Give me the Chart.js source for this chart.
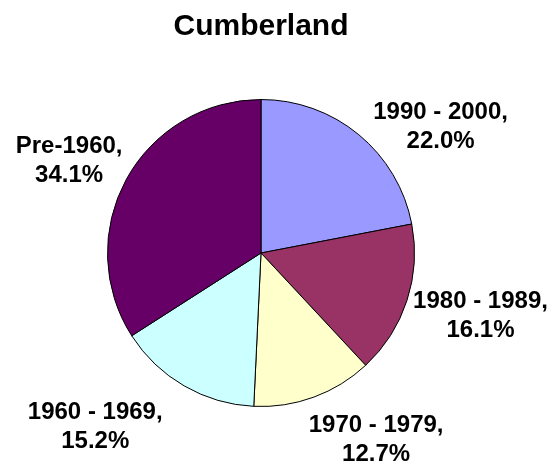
<!DOCTYPE html>
<html>
<head>
<meta charset="utf-8">
<script src="https://cdn.jsdelivr.net/npm/chart.js@4"></script>
<style>
  html, body { margin: 0; padding: 0; background: #fff; }
  #wrap { width: 559px; height: 470px; }
</style>
</head>
<body>
<div id="wrap"><canvas id="chart" width="559" height="470"></canvas></div>
<script>
// Cumberland — share of housing by year built
const categories = ['1990 - 2000', '1980 - 1989', '1970 - 1979', '1960 - 1969', 'Pre-1960'];
const shares = [22.0, 16.1, 12.7, 15.2, 34.1];
const sliceColors = ['#9999FF', '#993366', '#FFFFCC', '#CCFFFF', '#660066'];

// label centres, in pie radii from the pie centre (Excel-style manual placement)
const labelPlacement = [
  [1.17, -0.82],
  [1.43, 0.41],
  [0.75, 1.22],
  [-1.08, 1.13],
  [-1.25, -0.60],
];

const sliceLabels = {
  id: 'sliceLabels',
  afterDatasetsDraw(chart) {
    const ctx = chart.ctx;
    const arcs = chart.getDatasetMeta(0).data;
    ctx.save();
    ctx.font = 'bold 24px "Liberation Sans", Arial, sans-serif';
    ctx.fillStyle = '#000';
    ctx.textAlign = 'center';
    ctx.textBaseline = 'middle';
    arcs.forEach((arc, i) => {
      const r = arc.outerRadius;
      const cx = arc.x + labelPlacement[i][0] * r;
      const cy = arc.y + labelPlacement[i][1] * r;
      ctx.fillText(categories[i] + ',', cx, cy - 14.5);
      ctx.fillText(shares[i].toFixed(1) + '%', cx, cy + 14.5);
    });
    ctx.restore();
  },
};

new Chart(document.getElementById('chart'), {
  type: 'pie',
  data: {
    labels: categories,
    datasets: [{
      data: shares,
      backgroundColor: sliceColors,
      borderColor: '#000',
      borderWidth: 1,
    }],
  },
  options: {
    responsive: false,
    animation: false,
    layout: { padding: { left: 107, right: 144, top: 0, bottom: 63 } },
    plugins: {
      legend: { display: false },
      tooltip: { enabled: false },
      title: {
        display: true,
        text: 'Cumberland',
        color: '#000',
        font: { family: '"Liberation Sans", Arial, sans-serif', size: 30, weight: 'bold' },
        padding: { top: 9, bottom: 54 },
      },
    },
  },
  plugins: [sliceLabels],
});
</script>
</body>
</html>
